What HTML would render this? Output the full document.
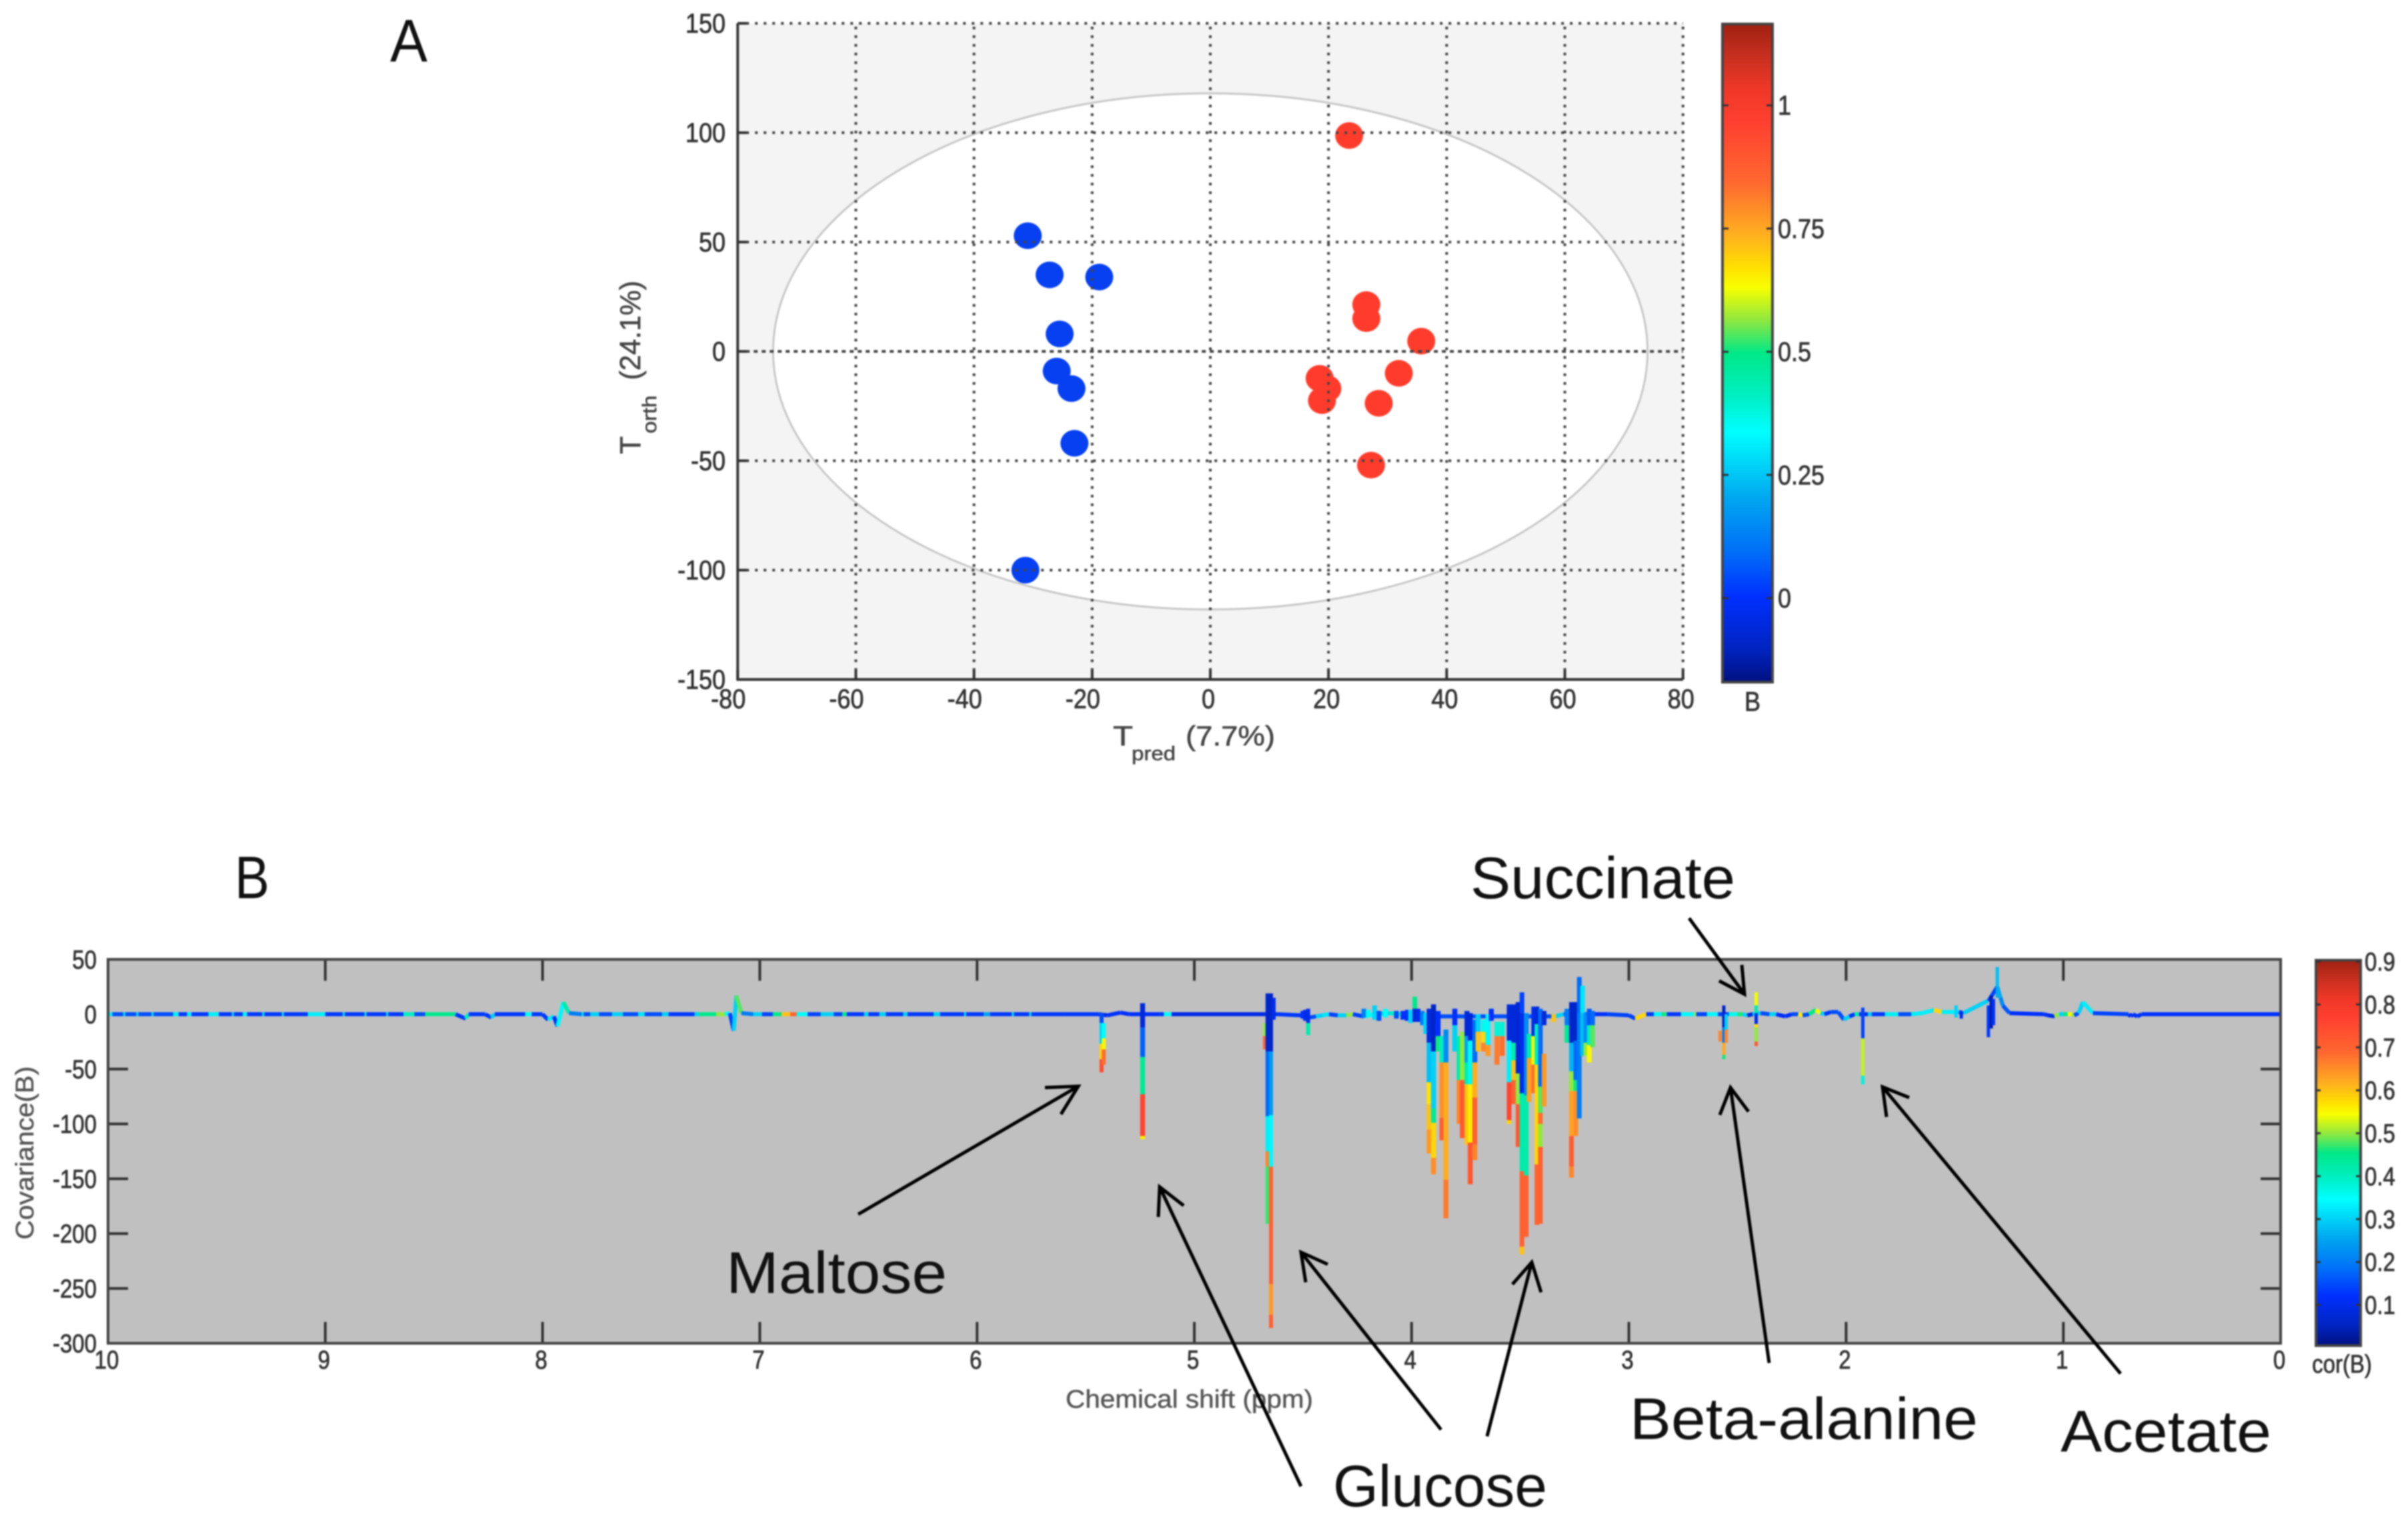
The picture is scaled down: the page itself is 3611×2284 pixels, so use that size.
<!DOCTYPE html>
<html lang="en">
<head>
<meta charset="utf-8">
<title>OPLS-DA score plot and covariance loading plot</title>
<style>
html,body{margin:0;padding:0;background:#fff;}
svg{display:block;filter:blur(1.1px);font-family:"Liberation Sans",Arial,sans-serif;}
</style>
</head>
<body>
<svg id="figure" xmlns="http://www.w3.org/2000/svg" width="3611" height="2284" viewBox="0 0 3611 2284">
  <rect x="0" y="0" width="3611" height="2284" fill="#fff"/>
  <defs>
    <linearGradient id="jetGradient" x1="0" y1="0" x2="0" y2="1"></linearGradient>
  </defs>

  <g id="panelA"></g>
  <g id="panelB"></g>

  <text x="585" y="92" font-size="90" textLength="56" lengthAdjust="spacingAndGlyphs" fill="#111">A</text>
  <text x="352" y="1347" font-size="90" textLength="52" lengthAdjust="spacingAndGlyphs" fill="#111">B</text>

  <g fill="#444" stroke="#444" stroke-width="0.6">
    <text x="1669" y="1118" font-size="42" textLength="30" lengthAdjust="spacingAndGlyphs">T</text>
    <text x="1697" y="1140" font-size="30" textLength="66" lengthAdjust="spacingAndGlyphs">pred</text>
    <text x="1778" y="1118" font-size="42" textLength="134" lengthAdjust="spacingAndGlyphs">(7.7%)</text>
  </g>
  <g fill="#444" stroke="#444" stroke-width="0.6">
    <text transform="translate(960,681) rotate(-90)" font-size="44">T</text>
    <text transform="translate(984,650) rotate(-90)" font-size="30" textLength="57" lengthAdjust="spacingAndGlyphs">orth</text>
    <text transform="translate(960,570) rotate(-90)" font-size="44" textLength="149" lengthAdjust="spacingAndGlyphs">(24.1%)</text>
  </g>

  <text transform="translate(50,1859) rotate(-90)" font-size="38" textLength="260" lengthAdjust="spacingAndGlyphs" fill="#555" stroke="#555" stroke-width="0.5">Covariance(B)</text>
  <text x="1598" y="2111" font-size="38" textLength="371" lengthAdjust="spacingAndGlyphs" fill="#555" stroke="#555" stroke-width="0.5">Chemical shift (ppm)</text>

  <g fill="none" stroke="#000" stroke-width="5">
    <g><path d="M1287 1821L1617 1629M1567 1631L1617 1629L1591 1671"/></g>
    <g><path d="M1951 2229L1739 1780M1737 1825L1739 1780L1775 1808"/></g>
    <g><path d="M2161 2144L1951 1878M1958 1923L1951 1878L1991 1896"/></g>
    <g><path d="M2230 2154L2297 1893M2268 1926L2297 1893L2311 1938"/></g>
    <g><path d="M2653 2044L2595 1631M2579 1672L2595 1631L2622 1667"/></g>
    <g><path d="M3180 2060L2823 1630M2829 1675L2823 1630L2863 1646"/></g>
    <g><path d="M2533 1377L2616 1491M2612 1447L2616 1491L2578 1471"/></g>
  </g>

  <g font-size="88" fill="#111">
    <text x="1089" y="1939" textLength="331" lengthAdjust="spacingAndGlyphs">Maltose</text>
    <text x="1999" y="2259" textLength="321" lengthAdjust="spacingAndGlyphs">Glucose</text>
    <text x="2205" y="1347" textLength="397" lengthAdjust="spacingAndGlyphs">Succinate</text>
    <text x="2444" y="2158" textLength="522" lengthAdjust="spacingAndGlyphs">Beta-alanine</text>
    <text x="3090" y="2177" textLength="316" lengthAdjust="spacingAndGlyphs">Acetate</text>
  </g>
</svg>
<script>
/* ---------- Score plot data ---------- */
const scoreXTicks = [-80, -60, -40, -20, 0, 20, 40, 60, 80];
const scoreYTicks = [150, 100, 50, 0, -50, -100, -150];
const blueT = [-30.9, -27.2, -18.8, -25.5, -26, -23.5, -23, -31.3];
const blueO = [52.9, 35, 34, 8, -9, -17, -42, -100];
const redT = [23.5, 26.4, 26.4, 35.7, 31.9, 18.5, 19.8, 18.9, 28.5, 27.2];
const redO = [98.7, 21.4, 15, 4.7, -10, -12.3, -17, -22.5, -23.7, -52];
const ellipseRadii = [74, 118];
const scoreBarTicks = [1, 0.75, 0.5, 0.25, 0];
const scoreBarLabels = ['1', '0.75', '0.5', '0.25', '0'];

/* ---------- Covariance plot data ---------- */
const shiftTicks = [10, 9, 8, 7, 6, 5, 4, 3, 2, 1, 0];
const covTicks = [50, 0, -50, -100, -150, -200, -250, -300];
const corTicks = [0.9, 0.8, 0.7, 0.6, 0.5, 0.4, 0.3, 0.2, 0.1];

/* jet colormap: [fraction from top, colour] */
const jetStops = [[0,'#a02010'],[0.05,'#c83020'],[0.1,'#f03828'],[0.15,'#ff4030'],[0.24,'#ff6830'],[0.32,'#ffb020'],[0.37,'#ffe000'],[0.4,'#f8ff00'],[0.45,'#90e840'],[0.5,'#00e888'],[0.57,'#00f0c8'],[0.62,'#00ffff'],[0.72,'#00a8f0'],[0.8,'#0070f8'],[0.87,'#0030ff'],[0.95,'#0024c0'],[1,'#001080']];
const corAtBarTop = 0.903;
const corAtBarBottom = 0.005;

/* baseline trace rows: [ppm, covariance, correlation of the piece that follows] */
const baselineAromatic = [[10,0,.33],[9.98,0,.15],[9.93,0,.3],[9.92,0,.15],[9.87,0,.3],[9.86,0,.15],[9.8,0,.3],[9.79,0,.15],[9.7,0,.33],[9.675,0,.13],[9.636,0,.33],[9.616,0,.13],[9.538,0,.33],[9.49,0,.13],[9.43,0,.3],[9.42,0,.13],[9.38,0,.33],[9.36,0,.13],[9.29,0,.3],[9.28,0,.13],[9.2,0,.3],[9.19,0,.13],[9.08,0,.33],[9,0,.13],[8.92,0,.3],[8.91,0,.13],[8.82,0,.3],[8.81,0,.13],[8.72,0,.3],[8.71,0,.13],[8.64,0,.4],[8.59,0,.15],[8.54,0,.45],[8.4,0,.13],[8.354,-4,.4],[8.34,0,.13],[8.265,0,.13],[8.236,-3,.3],[8.22,0,.13],[8.08,0,.35],[8.05,0,.13],[8,0,.13],[7.975,-5,.33],[7.948,-2,.12],[7.931,-11,.34],[7.904,11,.42],[7.878,1,.2],[7.82,0,.3],[7.81,0,.15],[7.78,0,.3],[7.74,0,.15],[7.68,0,.3],[7.63,0,.15],[7.56,0,.32],[7.53,0,.15],[7.45,0,.3],[7.42,0,.13],[7.3,0,.3],[7.28,0,.45],[7.2,0,.5],[7.16,0,.35],[7.138,1,.14],[7.12,-15,.3],[7.108,17,.48],[7.085,1,.2],[7.03,0,.3],[6.99,0,.14],[6.94,0,.45],[6.9,0,.6],[6.86,0,.7],[6.83,0,.35],[6.78,0,.14],[6.72,0,.3],[6.66,0,.14],[6.62,0,.45],[6.6,0,.13],[6.52,0,.3],[6.5,0,.13],[6.45,0,.3],[6.42,0,.13],[6.34,0,.3],[6.32,0,.13],[6.2,0,.3],[6.17,0,.13],[6.06,0,.3],[6.05,0,.13],[5.97,0,.25],[5.94,0,.13],[5.84,0,.3],[5.83,0,.13],[5.76,0,.3],[5.75,0,.13]];
const baselineAnomeric = [[5.6,0,.13],[5.44,0,.1],[5.4,-1,.12],[5.34,1.5,.12],[5.3,0,.12],[5.16,0,.13],[5.14,0,.35],[5.105,0,.09],[4.675,0,.09]];
const baselineSugar = [[4.62,0,.13],[4.51,-1,.2],[4.47,-3,.15],[4.44,-2,.3],[4.41,-1,.32],[4.38,0,.14],[4.34,-1,.3],[4.3,-1,.5],[4.27,0,.14],[4.22,-2,.34],[4.17,0,.3],[4.1,1,.4],[4.05,0,.14],[3.95,-2,.15],[3.34,-2,.3],[3.3,0,.14],[3.16,0,.12],[3.1,0,.14],[3,-1,.14],[2.97,-4,.58],[2.92,0,.13]];
const baselineAliphatic = [[2.885,0,.34],[2.85,0,.46],[2.825,0,.13],[2.76,0,.34],[2.7,0,.5],[2.69,0,.14],[2.64,0,.34],[2.59,0,.14],[2.54,0,.36],[2.5,0,.46],[2.475,0,.3],[2.455,-1,.08],[2.43,0,.3],[2.394,1,.15],[2.353,0,.3],[2.322,0,.12],[2.28,-2,.12],[2.25,0,.15],[2.22,0,.56],[2.2,-1,.15],[2.17,0,.45],[2.14,4,.54],[2.118,1,.3],[2.1,0,.13],[2.07,2,.15],[2.036,2,.15],[2.01,-5,.3],[1.985,-2,.13],[1.96,0,.42],[1.94,0,.1],[1.9,0,.3],[1.882,0,.13],[1.821,0,.33],[1.76,0,.15],[1.7,0,.33],[1.65,1,.33],[1.61,3,.32],[1.596,4,.58],[1.56,2,.33],[1.5,2,.3],[1.48,2,.1],[1.46,1,.3],[1.35,12,.3],[1.345,12,.14],[1.304,25,.26],[1.289,15,.22],[1.279,8,.16],[1.248,1,.12],[1.09,0,.12],[1.07,-1,.1],[1.04,-2,.5],[1.02,0,.3],[1,0,.45],[.98,0,.55],[.96,0,.5],[.95,-1,.15],[.93,1,.3],[.91,11,.33],[.864,1,.14],[.7,0,.12],[.69,-2,.12],[.68,0,.12],[.66,-2,.12],[.64,0,.12],[0,0,.12]];

/* stems rows: [ppm, top covariance, bottom covariance, correlation] */
const stemsMaltose = [[5.427,1,-8,.15],[5.427,-8,-27,.3],[5.427,-27,-41,.58],[5.427,-41,-53,.74],[5.417,-8,-22,.35],[5.417,-22,-32,.55],[5.417,-32,-46,.68],[5.24,10,-12,.08],[5.24,-12,-39,.17],[5.24,-39,-73,.44],[5.24,-73,-111,.76],[5.24,-111,-114,.56],[5.236,10,-12,.08],[5.236,-12,-39,.17],[5.236,-39,-73,.44],[5.236,-73,-111,.76],[5.236,-111,-114,.56]];
const stemsGlucoseAnomeric = [[4.675,-8,-20,.5],[4.675,-20,-32,.7],[4.663,19,-34,.06],[4.663,-34,-93,.18],[4.663,-93,-125,.33],[4.663,-125,-139,.66],[4.663,-139,-191,.47],[4.647,19,-34,.06],[4.647,-34,-92,.24],[4.647,-92,-139,.34],[4.647,-139,-246,.7],[4.647,-246,-274,.64],[4.647,-274,-286,.7],[4.635,15,-5,.1],[4.502,3,-4,.12],[4.49,4,-6,.1],[4.476,5,-8,.1],[4.476,-8,-19,.42]];
const stemsSugarNoise = [[4.22,5,-3,.2],[4.2,4,-3,.35],[4.17,8,-5,.3],[4.15,3,-6,.15],[4.12,5,-3,.35],[4.07,3,-4,.15],[4.04,3,-5,.12],[4.02,4,-6,.12],[4.005,4,-8,.3],[3.985,16,0,.45],[3.985,5,-7,.08],[3.97,5,-7,.1],[3.95,3,-10,.2],[3.935,1,-18,.3]];
const stemsSugarLeft = [[3.919,5,-26,.08],[3.919,-26,-62,.28],[3.919,-62,-82,.57],[3.919,-82,-105,.6],[3.919,-105,-127,.64],[3.899,9,-34,.06],[3.899,-34,-86,.3],[3.899,-86,-99,.44],[3.899,-99,-131,.58],[3.899,-131,-146,.65],[3.878,3,-20,.12],[3.878,-20,-34,.46],[3.86,-20,-44,.4],[3.86,-44,-94.6,.65],[3.86,-94.6,-115,.71],[3.842,-14,-44,.22],[3.842,-44,-151,.62],[3.842,-151,-186,.67],[3.801,5,-10,.12],[3.801,-10,-34,.3],[3.781,-20,-60,.42],[3.781,-60,-100,.66],[3.766,-16,-60,.5],[3.766,-60,-113,.72],[3.745,3,-20,.08],[3.745,-20,-44,.25],[3.745,-44,-64,.42],[3.745,-64,-119,.6],[3.73,1,-24,.08],[3.73,-24,-64,.36],[3.73,-64,-117,.56],[3.73,-117,-155,.72],[3.709,-5,-44,.18],[3.709,-44,-76,.62],[3.709,-76,-119,.7],[3.709,-119,-133,.66]];
const stemsSugarMiddle = [[3.694,0,-16,.3],[3.694,-16,-34,.6],[3.668,-5,-16,.36],[3.668,-16,-26,.58],[3.668,-26,-34,.66],[3.648,0,-28,.34],[3.648,-28,-38,.64],[3.633,5,-6,.12],[3.607,-7,-20,.38],[3.607,-20,-46,.67],[3.583,-7,-20,.38],[3.583,-20,-38,.68]];
const stemsSugarRight = [[3.551,9,-24,.08],[3.551,-24,-62,.33],[3.551,-62,-96.6,.76],[3.551,-96.6,-100,.58],[3.53,9,-26,.08],[3.53,-26,-42,.42],[3.53,-42,-60,.6],[3.53,-60,-82,.7],[3.51,11,-54,.07],[3.51,-54,-82,.5],[3.51,-82,-121,.72],[3.492,20,1,.14],[3.492,1,-72,.1],[3.492,-72,-143,.42],[3.492,-143,-212,.7],[3.492,-212,-219,.6],[3.472,1,-74,.22],[3.472,-74,-147,.42],[3.472,-147,-203,.7],[3.459,-18,-40,.42],[3.459,-40,-80,.63],[3.438,7,-20,.1],[3.438,-20,-46,.55],[3.438,-46,-72,.68],[3.423,7,-9,.08],[3.423,-9,-46,.4],[3.423,-46,-137,.58],[3.423,-137,-192,.7],[3.407,5,-66,.18],[3.407,-66,-90,.48],[3.407,-90,-100,.68],[3.407,-100,-121,.5],[3.407,-121,-191,.7],[3.39,3,-10,.08],[3.39,-36,-84,.64],[3.346,0,-7,.6]];
const stemsBetaGroup = [[3.285,5,-10,.2],[3.285,-10,-26,.44],[3.264,11,-26,.06],[3.264,-26,-52,.27],[3.264,-52,-70,.5],[3.264,-70,-111,.63],[3.264,-111,-139,.71],[3.264,-139,-149,.66],[3.244,11,-24,.06],[3.244,-24,-60,.18],[3.244,-60,-70,.46],[3.244,-70,-111,.65],[3.228,34,1,.18],[3.228,1,-95,.2],[3.213,26,1,.32],[3.213,1,-38,.28],[3.198,1,-26,.22],[3.198,-26,-38,.5],[3.182,5,-10,.16],[3.182,-10,-28,.4],[3.182,-28,-44,.55],[3.167,3,-10,.18],[3.167,-10,-30,.48]];
const stemsAliphatic = [[2.58,-15,-25,.66],[2.563,8,-12,.06],[2.563,-12,-26,.2],[2.563,-26,-37,.62],[2.563,-37,-41,.46],[2.552,0,-14,.3],[2.552,-14,-26,.66],[2.414,20,8,.54],[2.414,8,1,.42],[2.414,1,-9,.1],[2.414,-9,-12,.57],[2.414,-12,-25,.5],[2.414,-25,-29,.72],[1.923,6,-22,.14],[1.923,-22,-56,.52],[1.923,-56,-64,.38],[1.494,8,-3,.3],[1.47,1,-4,.1],[1.345,8,-21,.13],[1.332,17,-13,.03],[1.322,14,-10,.12],[1.304,43,25,.28],[1.304,25,15,.26]];

/* ---------- Axis functions ---------- */
const scoreX = v => 1815 + 8.86 * v;
const scoreY = v => 527 - 3.28 * v;
const shiftX = p => 3420 - 325.8 * p;
const covY = c => 1521 - 1.645 * c;
const SVGNS = 'http://www.w3.org/2000/svg';

function shape(parent, tag, name, attrs) {
  const el = document.createElementNS(SVGNS, tag);
  
  
  for (const k in attrs) el.setAttribute(k, attrs[k]);
  parent.appendChild(el);
  return el;
}
function label(parent, name, str, x, y, size, anchor, sx, sy, fill) {
  const el = shape(parent, 'text', name, {
    transform: 'translate(' + x + ',' + (y + 0.35 * size * sy) + ') scale(' + sx + ',' + sy + ')',
    'font-size': size, 'text-anchor': anchor, fill: fill, stroke: fill, 'stroke-width': 0.7
  });
  el.textContent = str;
  return el;
}
function jetColor(f) {
  if (f <= 0) return jetStops[0][1];
  for (let i = 1; i < jetStops.length; i++) {
    if (f <= jetStops[i][0]) {
      const a = jetStops[i - 1], b = jetStops[i];
      const t = (f - a[0]) / (b[0] - a[0]);
      const mix = s => Math.round(parseInt(a[1].substr(s, 2), 16) * (1 - t) + parseInt(b[1].substr(s, 2), 16) * t);
      return 'rgb(' + mix(1) + ',' + mix(3) + ',' + mix(5) + ')';
    }
  }
  return jetStops[jetStops.length - 1][1];
}
const corColor = c => jetColor((corAtBarTop - c) / (corAtBarTop - corAtBarBottom));

/* gradient used by both colour bars */
const gradient = document.getElementById('jetGradient');
jetStops.forEach(s => {
  const st = document.createElementNS(SVGNS, 'stop');
  st.setAttribute('offset', s[0]);
  st.setAttribute('stop-color', s[1]);
  gradient.appendChild(st);
});

/* ---------- Panel A ---------- */
const A = document.getElementById('panelA');
const aL = scoreX(-80), aR = scoreX(80), aT = scoreY(150), aB = scoreY(-150);
shape(A, 'rect', 'score-plot-background', {x: aL, y: aT, width: aR - aL, height: aB - aT, fill: '#f4f4f4'});
shape(A, 'ellipse', 'confidence-ellipse', {
  cx: scoreX(0), cy: scoreY(0),
  rx: scoreX(ellipseRadii[0]) - scoreX(0), ry: scoreY(-ellipseRadii[1]) - scoreY(0),
  fill: '#fff', stroke: '#c8c8c8', 'stroke-width': 3
});
blueT.forEach((t, i) => {
  shape(A, 'ellipse', 'class-0-sample', {cx: scoreX(t), cy: scoreY(blueO[i]), rx: 21, ry: 20, fill: '#0640f0'});
});
redT.forEach((t, i) => {
  shape(A, 'ellipse', 'class-1-sample', {cx: scoreX(t), cy: scoreY(redO[i]), rx: 21, ry: 20, fill: '#ff3c2c'});
});
scoreXTicks.forEach(v => {
  if (v !== -80) shape(A, 'line', 'score-vertical-gridline', {x1: scoreX(v), x2: scoreX(v), y1: aB, y2: aT, stroke: '#444', 'stroke-width': 4, 'stroke-dasharray': '4 9'});
  shape(A, 'line', 'score-x-tick', {x1: scoreX(v), x2: scoreX(v), y1: aB, y2: aB - 14, stroke: '#333', 'stroke-width': 4});
  label(A, 'score-x-tick-label', String(v), scoreX(v) + (v < 0 ? -14 : -3), 1048, 36, 'middle', 1, 1.12, '#333');
});
scoreYTicks.forEach(v => {
  if (v !== -150) shape(A, 'line', 'score-horizontal-gridline', {x1: aL, x2: aR, y1: scoreY(v), y2: scoreY(v), stroke: '#444', 'stroke-width': 4, 'stroke-dasharray': v === 0 ? '6 6' : '4 9'});
  shape(A, 'line', 'score-y-tick', {x1: aL, x2: aL + 14, y1: scoreY(v), y2: scoreY(v), stroke: '#333', 'stroke-width': 4});
  label(A, 'score-y-tick-label', String(v), 1088, scoreY(v), 36, 'end', 1, 1.12, '#333');
});
shape(A, 'line', 'score-y-axis', {x1: aL, x2: aL, y1: aT, y2: aB + 2, stroke: '#333', 'stroke-width': 4});
shape(A, 'line', 'score-x-axis', {x1: aL, x2: aR, y1: aB, y2: aB, stroke: '#333', 'stroke-width': 4});

const barAY = v => 897 - 739 * v;
shape(A, 'rect', 'score-colorbar', {x: 2583, y: 36, width: 75, height: 987, fill: 'url(#jetGradient)', stroke: '#444', 'stroke-width': 4});
scoreBarTicks.forEach((v, i) => {
  shape(A, 'line', 'score-colorbar-tick-left', {x1: 2583, x2: 2592, y1: barAY(v), y2: barAY(v), stroke: '#333', 'stroke-width': 3});
  shape(A, 'line', 'score-colorbar-tick-right', {x1: 2649, x2: 2658, y1: barAY(v), y2: barAY(v), stroke: '#333', 'stroke-width': 3});
  label(A, 'score-colorbar-label', scoreBarLabels[i], 2666, barAY(v), 36, 'start', 1, 1.12, '#333');
});
label(A, 'score-colorbar-title', 'B', 2628, 1052, 36, 'middle', 1, 1.12, '#333');

/* ---------- Panel B ---------- */
const B = document.getElementById('panelB');
const bL = shiftX(10), bR = shiftX(0), bT = covY(50), bB = covY(-300);
shape(B, 'rect', 'covariance-plot-background', {x: bL, y: bT, width: bR - bL, height: bB - bT, fill: '#c0c0c0'});

const baselineRows = baselineAromatic.concat(baselineAnomeric, baselineSugar, baselineAliphatic);
baselineRows.forEach((row, i) => {
  const next = baselineRows[i + 1];
  if (!next) return;
  shape(B, 'line', 'spectrum-baseline-piece', {
    x1: shiftX(row[0]), y1: covY(row[1]), x2: shiftX(next[0]), y2: covY(next[1]),
    stroke: corColor(row[2]), 'stroke-width': 6
  });
});
function drawStems(list, width) {
  list.forEach(row => {
    shape(B, 'line', 'spectrum-peak-segment', {
      x1: shiftX(row[0]), x2: shiftX(row[0]), y1: covY(row[1]), y2: covY(row[2]),
      stroke: corColor(row[3]), 'stroke-width': width
    });
  });
}
drawStems(stemsMaltose, 6);
drawStems(stemsGlucoseAnomeric, 6);
drawStems(stemsSugarNoise, 7);
drawStems(stemsSugarLeft, 7.5);
drawStems(stemsSugarMiddle, 7.5);
drawStems(stemsSugarRight, 7);
drawStems(stemsBetaGroup, 7);
drawStems(stemsAliphatic, 5);

shiftTicks.forEach(p => {
  if (p !== 10 && p !== 0) {
    shape(B, 'line', 'covariance-x-tick-top', {x1: shiftX(p), x2: shiftX(p), y1: bT, y2: bT + 32, stroke: '#333', 'stroke-width': 4});
    shape(B, 'line', 'covariance-x-tick-bottom', {x1: shiftX(p), x2: shiftX(p), y1: bB, y2: bB - 32, stroke: '#333', 'stroke-width': 4});
  }
  label(B, 'covariance-x-tick-label', String(p), shiftX(p) - 2, 2039, 33, 'middle', 1, 1.17, '#333');
});
covTicks.forEach(c => {
  if (c < 0 && c > -300) {
    shape(B, 'line', 'covariance-y-tick-left', {x1: bL, x2: bL + 30, y1: covY(c), y2: covY(c), stroke: '#333', 'stroke-width': 4});
    shape(B, 'line', 'covariance-y-tick-right', {x1: bR, x2: bR - 30, y1: covY(c), y2: covY(c), stroke: '#333', 'stroke-width': 4});
  }
  label(B, 'covariance-y-tick-label', String(c), 145, covY(c), 33, 'end', 1, 1.17, '#333');
});
shape(B, 'rect', 'covariance-plot-frame', {x: bL, y: bT, width: bR - bL, height: bB - bT, fill: 'none', stroke: '#444', 'stroke-width': 4});

const barBY = c => 1442 + (0.9 - c) * 643.75;
shape(B, 'rect', 'correlation-colorbar', {x: 3473, y: 1440, width: 67, height: 578, fill: 'url(#jetGradient)', stroke: '#444', 'stroke-width': 4});
corTicks.forEach(c => {
  shape(B, 'line', 'correlation-colorbar-tick-left', {x1: 3473, x2: 3480, y1: barBY(c), y2: barBY(c), stroke: '#333', 'stroke-width': 3});
  shape(B, 'line', 'correlation-colorbar-tick-right', {x1: 3533, x2: 3540, y1: barBY(c), y2: barBY(c), stroke: '#333', 'stroke-width': 3});
  label(B, 'correlation-colorbar-label', c.toFixed(1), 3546, barBY(c), 33, 'start', 1, 1.17, '#333');
});
label(B, 'correlation-colorbar-title', 'cor(B)', 3512, 2045, 33, 'middle', 1, 1.15, '#333');
</script>
</body>
</html>
